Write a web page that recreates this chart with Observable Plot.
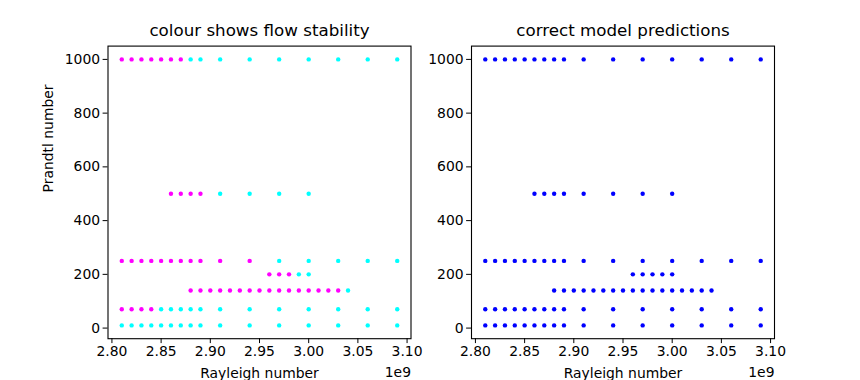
<!DOCTYPE html>
<html>
<head>
<meta charset="utf-8">
<script src="https://cdn.jsdelivr.net/npm/d3@7"></script>
<script src="https://cdn.jsdelivr.net/npm/@observablehq/plot@0.6"></script>
<style>
  html, body { margin: 0; padding: 0; background: white; }
  #wrap { position: relative; width: 860px; height: 380px; background: white; }
  #wrap > svg { position: absolute; top: 0; }
</style>
</head>
<body>
<div id="wrap"></div>
<script>
// ---- data ----
const titles = ["colour shows flow stability", "correct model predictions"];
const xLabel = "Rayleigh number";
const yLabel = "Prandtl number";
const xOffsetText = "1e9";
const xTicks = [2.80e9, 2.85e9, 2.90e9, 2.95e9, 3.00e9, 3.05e9, 3.10e9];
const yTicks = [0, 200, 400, 600, 800, 1000];

// Rayleigh values sampled on each Prandtl row (units of 1e9)
const raWide = [2.81, 2.82, 2.83, 2.84, 2.85, 2.86, 2.87, 2.88, 2.89, 2.91, 2.94, 2.97, 3.00, 3.03, 3.06, 3.09];
const raPr140 = [2.88, 2.89, 2.90, 2.91, 2.92, 2.93, 2.94, 2.95, 2.96, 2.97, 2.98, 2.99, 3.00, 3.01, 3.02, 3.03, 3.04];
const raPr200 = [2.96, 2.97, 2.98, 2.99, 3.00];
const raPr500 = [2.86, 2.87, 2.88, 2.89, 2.91, 2.94, 2.97, 3.00];

const prandtl = [10, 70, 140, 200, 250, 500, 1000];
const rowRa = [raWide, raWide, raPr140, raPr200, raWide, raPr500, raWide];
// highest Rayleigh value on each row that is unstable (magenta); null = none
const lastUnstable = [null, 2.84, 3.03, 2.98, 2.94, 2.89, 2.87];

const stabilityLabels = ["unstable", "stable"];
const stabilityColours = ["#ff00ff", "#00ffff"];
const predictionColour = "#0000ff";

// ---- build table ----
const points = [];
prandtl.forEach((pr, i) => {
  rowRa[i].forEach(ra => {
    const unstable = lastUnstable[i] !== null && ra <= lastUnstable[i] + 1e-9;
    points.push({ra: ra * 1e9, pr, stability: unstable ? "unstable" : "stable"});
  });
});

const W = 430, H = 380;
const font = "DejaVu Sans, sans-serif";

function panel(title, marginLeft, marginRight, showYLabel, colourByStability) {
  const marks = [
    Plot.frame({stroke: "black", strokeWidth: 1.1}),
    Plot.axisX({ticks: xTicks, tickFormat: d => (d / 1e9).toFixed(2), tickSize: 4.9, tickPadding: 3, label: null, fontSize: 13.9}),
    Plot.axisY({ticks: yTicks, tickFormat: d => String(d), tickSize: 4.9, tickPadding: 3, label: null, fontSize: 13.9}),
    Plot.dot(points, {
      x: "ra", y: "pr", r: 2.2, stroke: null,
      fill: colourByStability ? "stability" : predictionColour
    }),
    Plot.text([title], {frameAnchor: "top", lineAnchor: "middle", dy: -15, fontSize: 16.7, fill: "black"}),
    Plot.text([xLabel], {frameAnchor: "bottom", lineAnchor: "middle", dy: 35, fontSize: 13.9, fill: "black"}),
    Plot.text([xOffsetText], {frameAnchor: "bottom-right", lineAnchor: "middle", dy: 34, textAnchor: "end", fontSize: 13.9, fill: "black"})
  ];
  if (showYLabel) {
    marks.push(Plot.text([yLabel], {frameAnchor: "left", lineAnchor: "middle", dx: -59, rotate: -90, fontSize: 13.9, fill: "black"}));
  }
  return Plot.plot({
    width: W, height: H,
    marginLeft, marginRight, marginTop: 45.6, marginBottom: 41.8,
    style: {fontFamily: font, fontSize: "13.9px", color: "black", background: "white", overflow: "visible"},
    x: {domain: [2.796e9, 3.104e9], axis: null},
    y: {domain: [-39.5, 1049.5], axis: null},
    color: {domain: stabilityLabels, range: stabilityColours},
    marks
  });
}

const wrap = document.getElementById("wrap");
const left = panel(titles[0], 107.5, W - 410.5, true, true);
left.style.left = "0px";
const right = panel(titles[1], 471 - 430, 860 - 774, false, false);
right.style.left = "430px";
wrap.appendChild(left);
wrap.appendChild(right);
</script>
</body>
</html>
